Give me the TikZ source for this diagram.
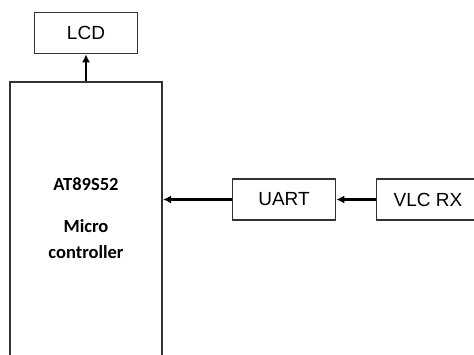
\documentclass[tikz,border=0pt]{standalone}
\usepackage{fontspec}
\setmainfont{Liberation Sans}
\newfontfamily\mcufont{Carlito}
\usepackage{tikz}
\usetikzlibrary{positioning,arrows.meta}

\begin{document}
\begin{tikzpicture}[
    x=1pt, y=1pt,
    box/.style={rectangle, draw=black!80, line width=1.6pt, fill=white, minimum width=103pt, minimum height=41pt, inner sep=0pt, font=\fontsize{19}{21}\selectfont},
    mcubox/.style={rectangle, draw=black!80, line width=2.2pt, minimum width=152pt, minimum height=278pt, inner sep=0pt},
    link/.style={line width=2.2pt, -{Latex[length=8pt,width=8pt]}}
]
\clip (0,0) rectangle (474,-355);

% Microcontroller (runs off the bottom)
\node[mcubox] (mcu) at (86,-221) {};
\node[font=\mcufont\bfseries\fontsize{18.5}{26}\selectfont, align=center] (mcutext) at (86,-218) {AT89S52\\[16pt]Micro\\controller};

% Display and receiver chain
\node[box] (lcd) at (86,-33) {LCD};
\node[box] (uart) at (284,-199.5) {UART};
\node[box] (vlc) at (428,-199.5) {VLC RX};

% Arrows
\draw[link] (mcu.north) -- (lcd.south);
\draw[link] (uart.west) -- (uart.west -| mcu.east);
\draw[link] (vlc.west) -- (uart.east);

\end{tikzpicture}
\end{document}
